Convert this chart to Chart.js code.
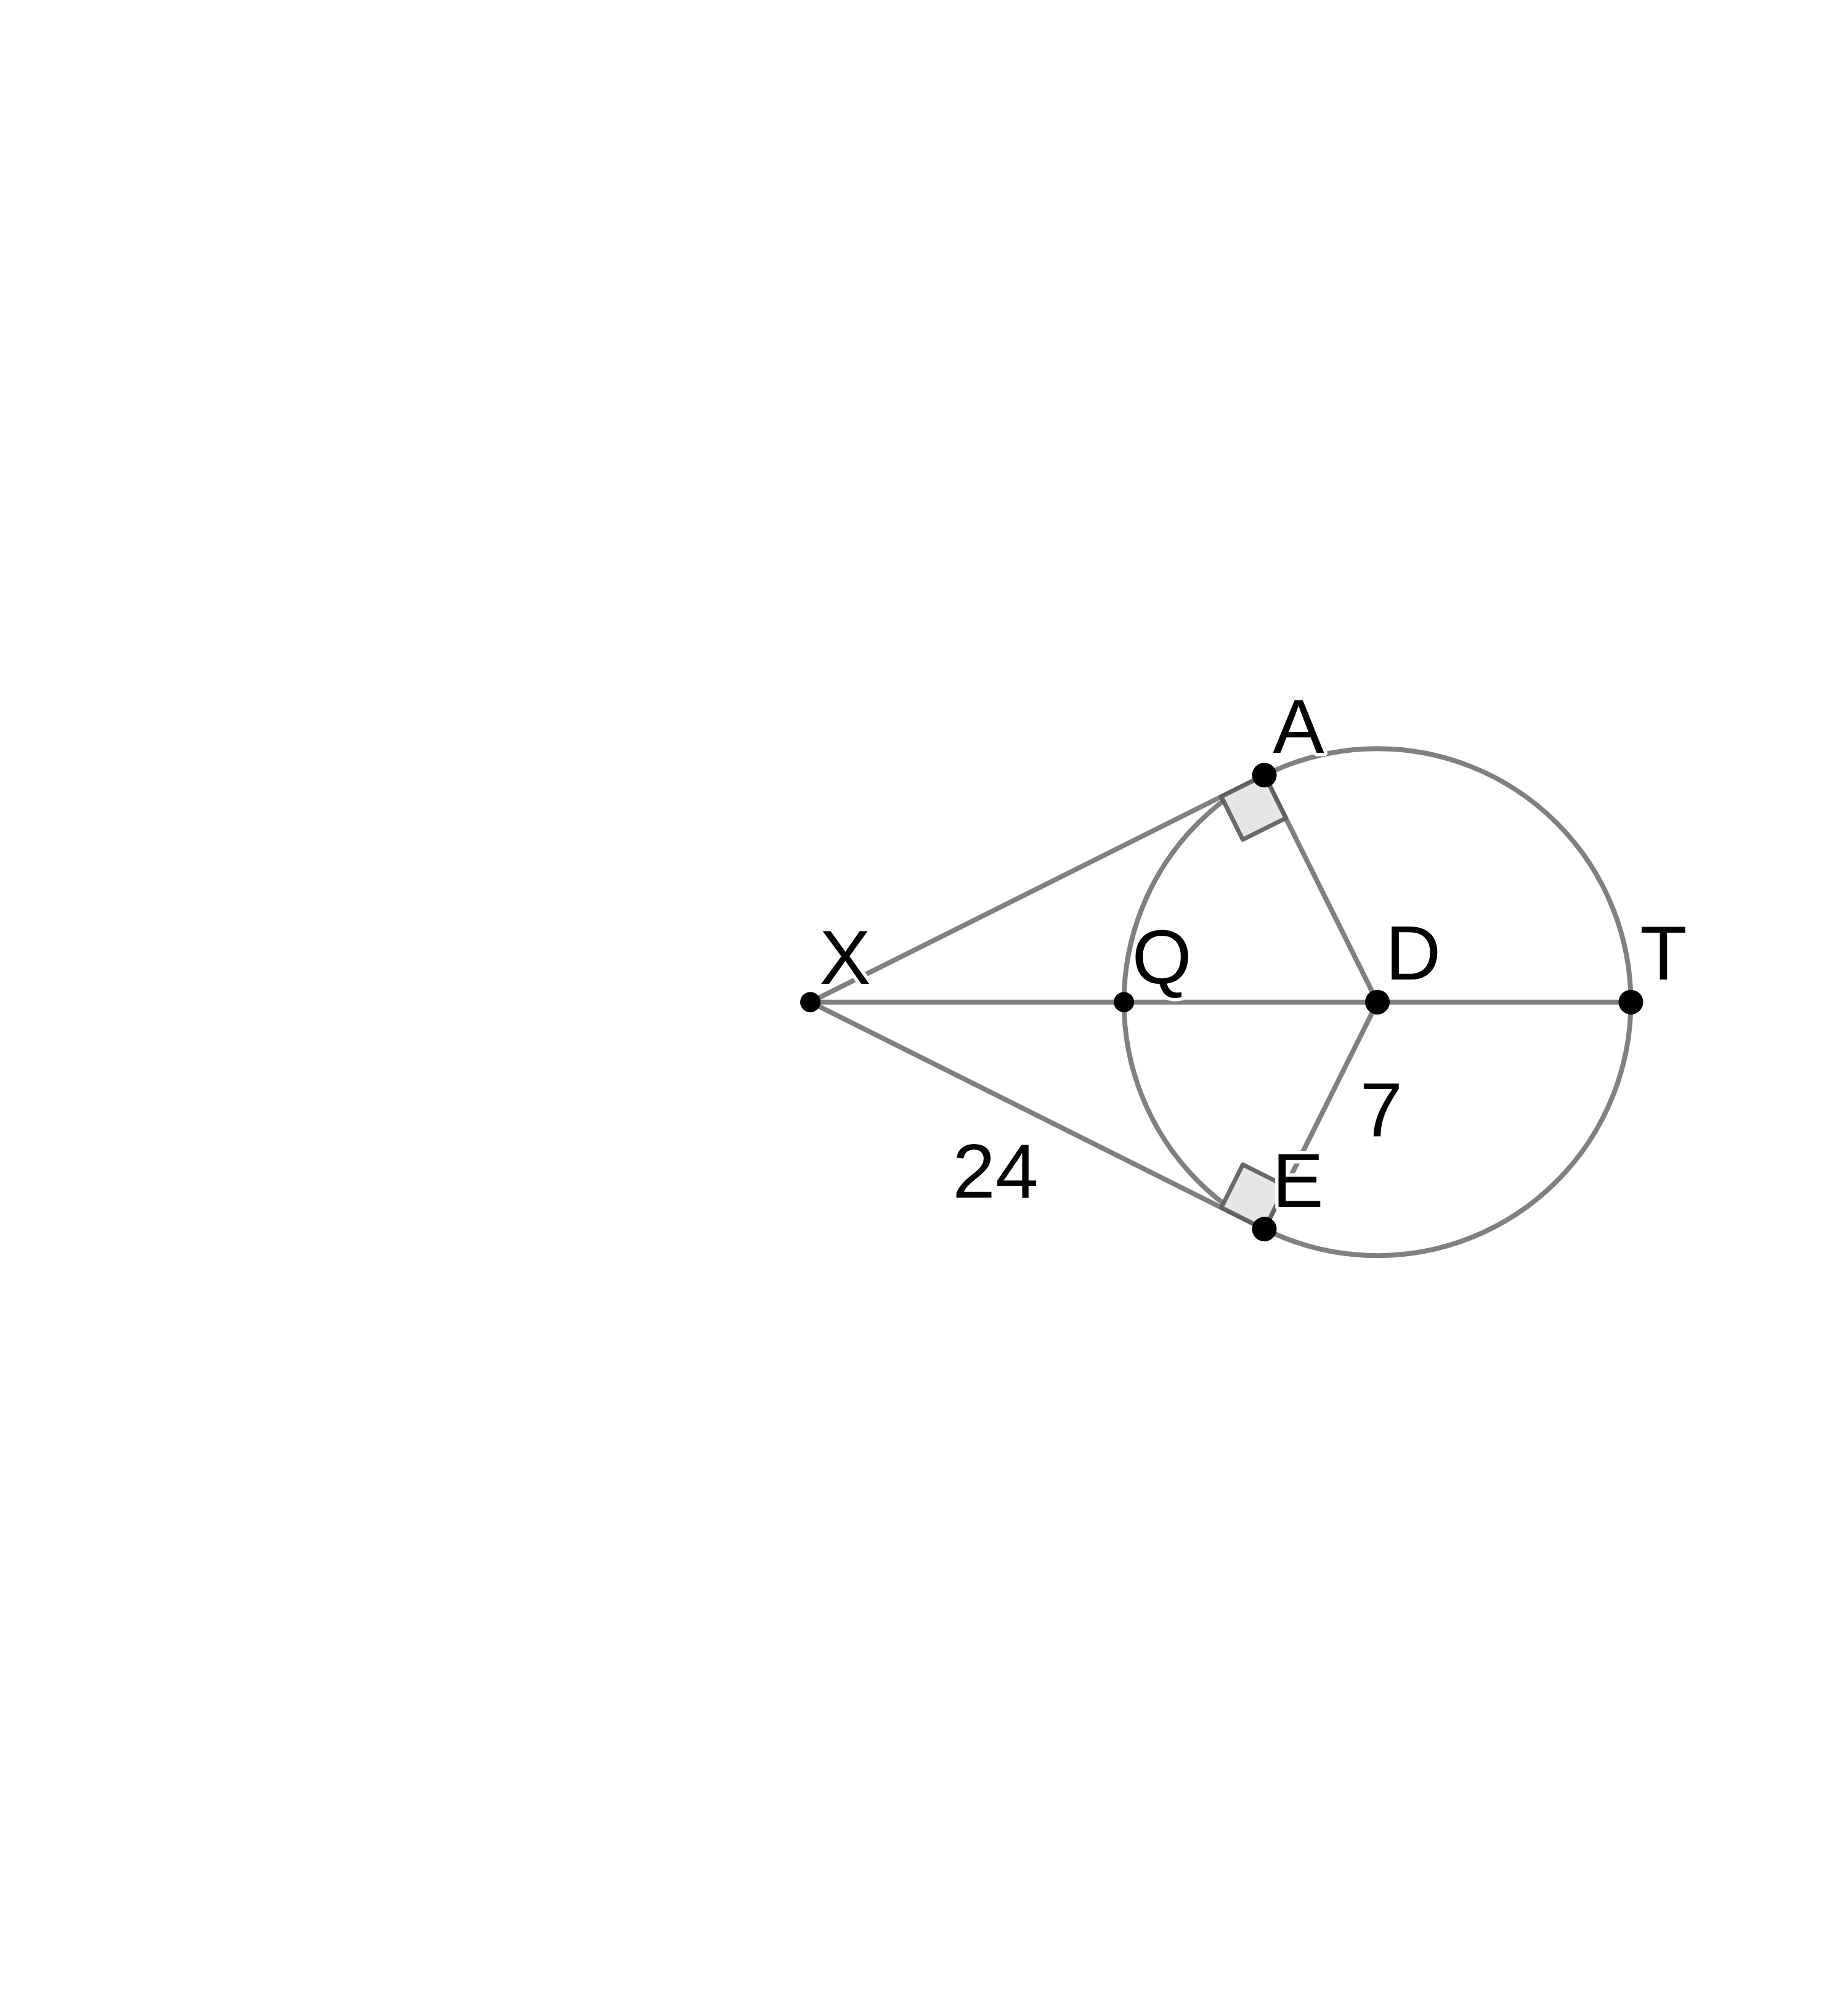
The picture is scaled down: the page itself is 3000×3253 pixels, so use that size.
<!DOCTYPE html>
<html>
<head>
<meta charset="utf-8">
<script src="https://cdn.jsdelivr.net/npm/chart.js@4.4.1/dist/chart.umd.min.js"></script>
<style>
html,body{margin:0;padding:0;background:#fff;}
#wrap{width:3000px;height:3253px;}
canvas{display:block;}
</style>
</head>
<body>
<div id="wrap"><canvas id="c" width="3000" height="3253"></canvas></div>
<script>
// ---- figure data (D at origin, y up) ----
const pointNames = ['X', 'Q', 'D', 'T', 'A', 'E'];
const pointXs = [-933, -417, 0, 417, -186, -186];
const pointYs = [0, 0, 0, 0, 373, -373];
const circleCenter = 'D';
const circleRadius = 417;
const segmentsFrom = ['X', 'X', 'X', 'D', 'D'];
const segmentsTo = ['T', 'A', 'E', 'A', 'E'];
const rightAngleVertex = ['A', 'E'];
const rightAngleArmA = ['X', 'X'];
const rightAngleArmB = ['D', 'D'];
const labelTexts = ['X', 'Q', 'D', 'T', 'A', 'E', '24', '7'];
const labelXs = [-918, -404, 13, 432, -172, -173, -699, -29];
const labelYs = [30, 31, 37, 37, 410, -336, -321, -220];
const axisXRange = [-2246, 754];
const axisYRange = [-1626.3, 1626.7];

// ---- styles ----
const LINE_COLOR = '#808080';
const LINE_W = 8;
const SQUARE_SIZE = 78;
const SMALL_DOTS = ['X', 'Q'];

const P = {};
pointNames.forEach((n, i) => { P[n] = { x: pointXs[i], y: pointYs[i] }; });

const lineDatasets = segmentsFrom.map((f, i) => ({
  type: 'scatter',
  data: [P[f], P[segmentsTo[i]]],
  showLine: true,
  borderColor: LINE_COLOR,
  borderWidth: LINE_W,
  pointRadius: 0,
  order: 2,
  clip: false
}));

const dotDataset = {
  type: 'scatter',
  data: pointNames.map(n => P[n]),
  pointRadius: pointNames.map(n => SMALL_DOTS.includes(n) ? 16.5 : 20),
  pointBackgroundColor: '#000',
  pointBorderWidth: 0,
  showLine: false,
  order: 0,
  clip: false,
  isDots: true
};

const geoPlugin = {
  id: 'geo',
  beforeDatasetsDraw(chart) {
    const ctx = chart.ctx, xs = chart.scales.x, ys = chart.scales.y;
    const c = P[circleCenter];
    const cx = xs.getPixelForValue(c.x), cy = ys.getPixelForValue(c.y);
    const r = xs.getPixelForValue(c.x + circleRadius) - cx;
    ctx.save();
    ctx.beginPath();
    ctx.arc(cx, cy, r, 0, Math.PI * 2);
    ctx.strokeStyle = LINE_COLOR;
    ctx.lineWidth = LINE_W;
    ctx.stroke();
    ctx.restore();
  },
  beforeDatasetDraw(chart, args) {
    const ds = chart.data.datasets[args.index];
    if (!ds.isDots) return;
    const ctx = chart.ctx, xs = chart.scales.x, ys = chart.scales.y;
    const px = n => ({ x: xs.getPixelForValue(P[n].x), y: ys.getPixelForValue(P[n].y) });
    rightAngleVertex.forEach((v, i) => {
      const o = px(v), a = px(rightAngleArmA[i]), b = px(rightAngleArmB[i]);
      const la = Math.hypot(a.x - o.x, a.y - o.y), lb = Math.hypot(b.x - o.x, b.y - o.y);
      const ua = { x: (a.x - o.x) / la * SQUARE_SIZE, y: (a.y - o.y) / la * SQUARE_SIZE };
      const ub = { x: (b.x - o.x) / lb * SQUARE_SIZE, y: (b.y - o.y) / lb * SQUARE_SIZE };
      ctx.save();
      ctx.beginPath();
      ctx.moveTo(o.x, o.y);
      ctx.lineTo(o.x + ua.x, o.y + ua.y);
      ctx.lineTo(o.x + ua.x + ub.x, o.y + ua.y + ub.y);
      ctx.lineTo(o.x + ub.x, o.y + ub.y);
      ctx.closePath();
      ctx.fillStyle = '#e6e6e6';
      ctx.fill();
      ctx.strokeStyle = 'rgba(90,90,90,0.9)';
      ctx.lineWidth = 7;
      ctx.lineJoin = 'round';
      ctx.stroke();
      ctx.restore();
    });
  },
  afterDatasetsDraw(chart) {
    const ctx = chart.ctx, xs = chart.scales.x, ys = chart.scales.y;
    ctx.save();
    ctx.font = '125px "Liberation Sans", Arial, Helvetica, sans-serif';
    ctx.textAlign = 'left';
    ctx.textBaseline = 'alphabetic';
    ctx.lineJoin = 'round';
    labelTexts.forEach((t, i) => {
      const x = xs.getPixelForValue(labelXs[i]);
      const y = ys.getPixelForValue(labelYs[i]);
      ctx.strokeStyle = '#fff';
      ctx.lineWidth = 11;
      ctx.strokeText(t, x, y);
      ctx.fillStyle = '#000';
      ctx.fillText(t, x, y);
    });
    ctx.restore();
  }
};

new Chart(document.getElementById('c'), {
  type: 'scatter',
  data: { datasets: [dotDataset, ...lineDatasets] },
  options: {
    responsive: false,
    maintainAspectRatio: false,
    devicePixelRatio: 1,
    animation: false,
    events: [],
    layout: { padding: 0 },
    plugins: { legend: { display: false }, tooltip: { enabled: false } },
    scales: {
      x: { type: 'linear', display: false, min: axisXRange[0], max: axisXRange[1] },
      y: { type: 'linear', display: false, min: axisYRange[0], max: axisYRange[1] }
    }
  },
  plugins: [geoPlugin]
});
</script>
</body>
</html>
